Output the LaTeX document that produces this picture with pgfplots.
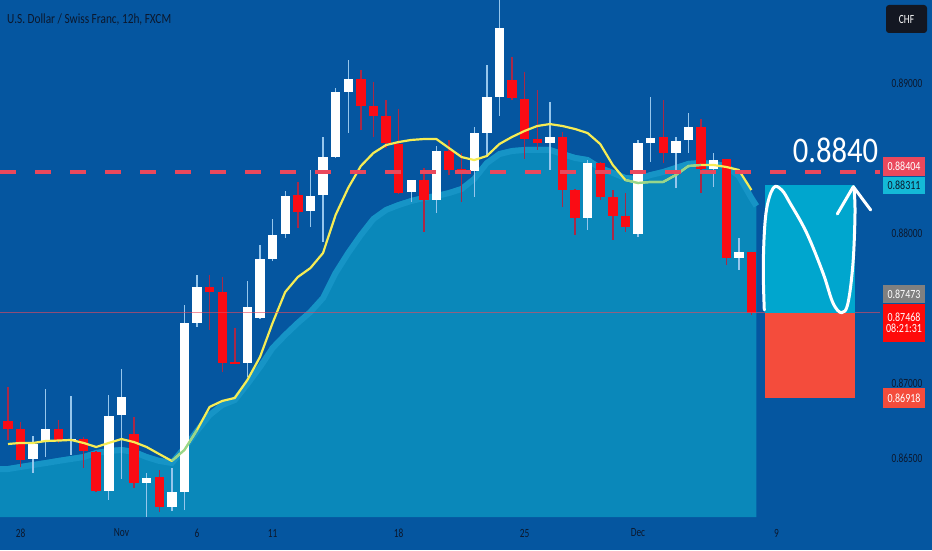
\documentclass[border=0pt]{standalone}
\usepackage{pgfplots}
\pgfplotsset{compat=1.18}
\usepackage{pgfplotstable}
\usepackage{graphicx}
\usepackage{fontspec}
\setmainfont{Carlito}

\definecolor{bg}{RGB}{5,86,160}
\definecolor{areac}{RGB}{10,136,186}
\definecolor{bandc}{RGB}{22,148,198}
\definecolor{maline}{RGB}{246,236,84}
\definecolor{magreen}{RGB}{150,214,140}
\definecolor{bear}{RGB}{250,12,20}
\definecolor{bearwick}{RGB}{170,40,70}
\definecolor{bullwick}{RGB}{150,198,236}
\definecolor{dashc}{RGB}{234,72,92}
\definecolor{axt}{RGB}{12,24,45}
\definecolor{boxcyan}{RGB}{0,166,206}
\definecolor{boxred}{RGB}{244,76,60}

\newcommand{\sq}[1]{\scalebox{0.75}[1]{#1}}

% candles: index, open, high, low, close
\pgfplotstableread{
i o h l c
0 0.86746 0.86973 0.86620 0.86693
1 0.86693 0.86740 0.86440 0.86486
4 0.86693 0.86753 0.86600 0.86620
6 0.86626 0.86640 0.86433 0.86546
7 0.86540 0.86546 0.86273 0.86280
10 0.86660 0.86773 0.86300 0.86333
12 0.86373 0.86420 0.86140 0.86173
16 0.87640 0.87720 0.87353 0.87606
17 0.87606 0.87706 0.87073 0.87133
18 0.87140 0.87366 0.87133 0.87133
23 0.88253 0.88340 0.88033 0.88140
28 0.89026 0.89086 0.88686 0.88846
29 0.88846 0.89006 0.88640 0.88780
30 0.88780 0.88886 0.88566 0.88600
31 0.88593 0.88826 0.88260 0.88266
33 0.88353 0.88433 0.88006 0.88220
35 0.88546 0.88620 0.88386 0.88420
36 0.88426 0.88533 0.88206 0.88400
40 0.89020 0.89173 0.88886 0.88900
41 0.88893 0.89073 0.88493 0.88626
42 0.88626 0.88953 0.88553 0.88600
44 0.88640 0.88673 0.88173 0.88286
45 0.88286 0.88290 0.87986 0.88100
47 0.88466 0.88473 0.88220 0.88240
48 0.88240 0.88286 0.87953 0.88113
49 0.88113 0.88266 0.88006 0.88040
52 0.88640 0.88886 0.88466 0.88533
55 0.88706 0.88760 0.88266 0.88426
57 0.88493 0.88493 0.87786 0.87833
59 0.87873 0.87873 0.87453 0.87468
}\bearish

\pgfplotstableread{
i o h l c
2 0.86493 0.86646 0.86400 0.86593
3 0.86606 0.86960 0.86506 0.86693
5 0.86613 0.86913 0.86520 0.86626
8 0.86280 0.86920 0.86220 0.86780
9 0.86786 0.87093 0.86360 0.86906
11 0.86333 0.86400 0.86106 0.86366
13 0.86173 0.86433 0.86146 0.86273
14 0.86273 0.87520 0.86153 0.87400
15 0.87400 0.87720 0.87373 0.87640
19 0.87133 0.87680 0.87040 0.87506
20 0.87433 0.87920 0.87426 0.87826
21 0.87826 0.88093 0.87813 0.87986
22 0.87993 0.88280 0.87966 0.88246
24 0.88146 0.88420 0.88040 0.88246
25 0.88253 0.88640 0.87940 0.88506
26 0.88506 0.88966 0.88500 0.88940
27 0.88940 0.89153 0.88666 0.89026
32 0.88273 0.88353 0.88206 0.88353
34 0.88220 0.88580 0.88133 0.88546
37 0.88413 0.88706 0.88240 0.88666
38 0.88666 0.89120 0.88506 0.88906
39 0.88906 0.89600 0.88780 0.89366
43 0.88600 0.88873 0.88420 0.88640
46 0.88100 0.88486 0.88020 0.88466
50 0.87993 0.88620 0.87973 0.88600
51 0.88600 0.88906 0.88473 0.88633
53 0.88533 0.88640 0.88300 0.88613
54 0.88620 0.88800 0.88533 0.88706
56 0.88426 0.88533 0.88306 0.88486
58 0.87833 0.87966 0.87753 0.87873
}\bullish

% moving average
\pgfplotstableread{
i ma
0 0.86593
1 0.86600
2 0.86600
3 0.86613
4 0.86616
5 0.86620
6 0.86600
7 0.86573
8 0.86600
9 0.86626
10 0.86606
11 0.86573
12 0.86526
13 0.86480
14 0.86553
15 0.86686
16 0.86840
17 0.86880
18 0.86900
19 0.87020
20 0.87173
21 0.87400
22 0.87606
23 0.87706
24 0.87766
25 0.87866
26 0.88120
27 0.88300
28 0.88446
29 0.88533
30 0.88586
31 0.88606
32 0.88620
33 0.88626
34 0.88626
35 0.88566
36 0.88506
37 0.88486
38 0.88513
39 0.88593
40 0.88640
41 0.88680
42 0.88713
43 0.88726
44 0.88713
45 0.88693
46 0.88666
47 0.88593
48 0.88453
49 0.88353
50 0.88333
51 0.88340
52 0.88340
53 0.88386
54 0.88446
55 0.88453
56 0.88453
57 0.88440
58 0.88420
59 0.88286
}\mavg

% filled (slow) average
\pgfplotstableread{
i a
-0.65 0.86446
0 0.86446
1 0.86460
2 0.86473
3 0.86486
4 0.86500
5 0.86513
6 0.86526
7 0.86553
8 0.86566
9 0.86573
10 0.86560
11 0.86526
12 0.86500
13 0.86486
14 0.86586
15 0.86700
16 0.86806
17 0.86873
18 0.86906
19 0.87013
20 0.87126
21 0.87253
22 0.87340
23 0.87420
24 0.87493
25 0.87586
26 0.87753
27 0.87886
28 0.88006
29 0.88113
30 0.88173
31 0.88206
32 0.88233
33 0.88253
34 0.88266
35 0.88286
36 0.88313
37 0.88380
38 0.88486
39 0.88546
40 0.88566
41 0.88573
42 0.88573
43 0.88573
44 0.88546
45 0.88520
46 0.88506
47 0.88453
48 0.88420
49 0.88386
50 0.88380
51 0.88406
52 0.88426
53 0.88453
54 0.88480
55 0.88486
56 0.88480
57 0.88466
58 0.88400
59 0.88253
59.4 0.88200
}\slowavg

\begin{document}
\begin{tikzpicture}[x=1pt,y=1pt]
\useasboundingbox (0,0) rectangle (932,550);
\fill[bg] (0,0) rectangle (932,550);
\begin{axis}[
  at={(0,0)}, anchor=south west,
  width=932pt, height=550pt, scale only axis,
  xmin=-0.6349, xmax=73.3333,
  ymin=0.858863, ymax=0.89553,
  axis line style={draw=none},
  tick style={draw=none},
  scaled y ticks=false,
  xtick={1,9,15,21,31,41,50,61},
  xticklabels={\sq{28},\sq{Nov},\sq{6},\sq{11},\sq{18},\sq{25},\sq{Dec},\sq{9}},
  xticklabel style={anchor=center, yshift=17pt, text=axt, font=\fontsize{12.5}{12.5}\selectfont},
  ytick={0.865,0.87,0.88,0.89},
  yticklabels={\sq{0.86500},\sq{0.87000},\sq{0.88000},\sq{0.89000}},
  yticklabel pos=right,
  yticklabel style={anchor=center, xshift=-25pt, text=axt, font=\fontsize{12.5}{12.5}\selectfont},
]
% slow average, filled down to the time strip
\addplot[fill=areac, draw=none] table[x=i, y=a] {\slowavg}
  -- (axis cs:59.4,0.86106) -- (axis cs:-0.65,0.86106) -- cycle;
\addplot[draw=bandc, line width=6pt, yshift=-3pt] table[x=i, y=a] {\slowavg};

% wicks
\addplot[draw=none, mark=none, error bars/.cd, y dir=both, y explicit,
  error mark=none, error bar style={draw=bearwick, line width=1.4pt}]
  table[x=i, y expr={(\thisrow{h}+\thisrow{l})/2}, y error expr={(\thisrow{h}-\thisrow{l})/2}] {\bearish};
\addplot[draw=none, mark=none, error bars/.cd, y dir=both, y explicit,
  error mark=none, error bar style={draw=bullwick, line width=1.4pt}]
  table[x=i, y expr={(\thisrow{h}+\thisrow{l})/2}, y error expr={(\thisrow{h}-\thisrow{l})/2}] {\bullish};
% bodies
\addplot[draw=none, mark=none, error bars/.cd, y dir=both, y explicit,
  error mark=none, error bar style={draw=bear, line width=9.4pt}]
  table[x=i, y expr={(\thisrow{o}+\thisrow{c})/2}, y error expr={max(abs(\thisrow{o}-\thisrow{c})/2,0.00004)}] {\bearish};
\addplot[draw=none, mark=none, error bars/.cd, y dir=both, y explicit,
  error mark=none, error bar style={draw=white, line width=9.4pt}]
  table[x=i, y expr={(\thisrow{o}+\thisrow{c})/2}, y error expr={max(abs(\thisrow{o}-\thisrow{c})/2,0.00004)}] {\bullish};

% fast average, greenish where it runs over the filled band
\addplot[maline, line width=2.2pt, line join=round] table[x=i, y=ma] {\mavg};
\addplot[magreen, line width=2.2pt, line join=round, restrict x to domain=13:15.5] table[x=i, y=ma] {\mavg};
\addplot[magreen, line width=2.2pt, line join=round, restrict x to domain=48.6:55.4] table[x=i, y=ma] {\mavg};

% target line and last price line
\addplot[dashc, line width=4pt, dash pattern=on 16pt off 19pt] coordinates {(-0.6349,0.88404) (69.2,0.88404)};
\addplot[dashc, line width=0.7pt, opacity=0.6] coordinates {(-0.6349,0.87468) (69.2,0.87468)};
\end{axis}

% title
\node[anchor=west, text=axt, inner sep=0pt] at (7,530)
  {\resizebox{164pt}{\height}{\fontsize{14}{14}\selectfont U.S. Dollar / Swiss Franc, 12h, FXCM}};

% position tool
\fill[boxcyan] (765,237) rectangle (855,365);
\fill[boxred] (765,152) rectangle (855,237);
\draw[white, line width=3pt, line cap=round, line join=round]
  plot[smooth, tension=0.6] coordinates {(764.3,240) (763.3,287) (766,337) (773.3,362) (781.7,360) (790,347)
  (806.7,317) (823,277) (833,247) (841.7,237.3) (848,247) (853,287) (855,337) (854,362)};
\draw[white, line width=3pt, line cap=round, line join=round] (837.3,336) -- (853.3,363.3) -- (870.7,340);
\node[text=white, inner sep=0pt] at (835.5,400)
  {\scalebox{0.85}[1]{\fontsize{36}{36}\selectfont 0.8840}};

% price scale labels
\node[fill={rgb,255:red,19;green,23;blue,34}, rounded corners=3pt, minimum width=41pt, minimum height=28pt, inner sep=0pt, text=white]
  at (906.5,531) {\sq{\fontsize{12.5}{12.5}\selectfont CHF}};
\node[fill=dashc, minimum width=42pt, minimum height=19pt, inner sep=0pt, text=white] at (904,383.5)
  {\scalebox{0.8}[1]{\fontsize{12.5}{12.5}\selectfont 0.88404}};
\node[fill={rgb,255:red,20;green,185;blue,215}, minimum width=42pt, minimum height=17pt, inner sep=0pt, text=axt] at (904,364.5)
  {\scalebox{0.8}[1]{\fontsize{12.5}{12.5}\selectfont 0.88311}};
\node[fill={rgb,255:red,128;green,128;blue,128}, minimum width=42pt, minimum height=18pt, inner sep=0pt, text=white] at (904,256)
  {\scalebox{0.8}[1]{\fontsize{12.5}{12.5}\selectfont 0.87473}};
\node[fill={rgb,255:red,255;green,10;blue,10}, minimum width=42pt, minimum height=38pt, inner sep=0pt, text=white, align=center] at (904,227)
  {\scalebox{0.8}[1]{\fontsize{12.5}{16}\selectfont 0.87468}\\[-1pt]\scalebox{0.8}[1]{\fontsize{12.5}{16}\selectfont 08:21:31}};
\node[fill=boxred, minimum width=42pt, minimum height=20pt, inner sep=0pt, text=white] at (904,152)
  {\scalebox{0.8}[1]{\fontsize{12.5}{12.5}\selectfont 0.86918}};
\end{tikzpicture}
\end{document}
